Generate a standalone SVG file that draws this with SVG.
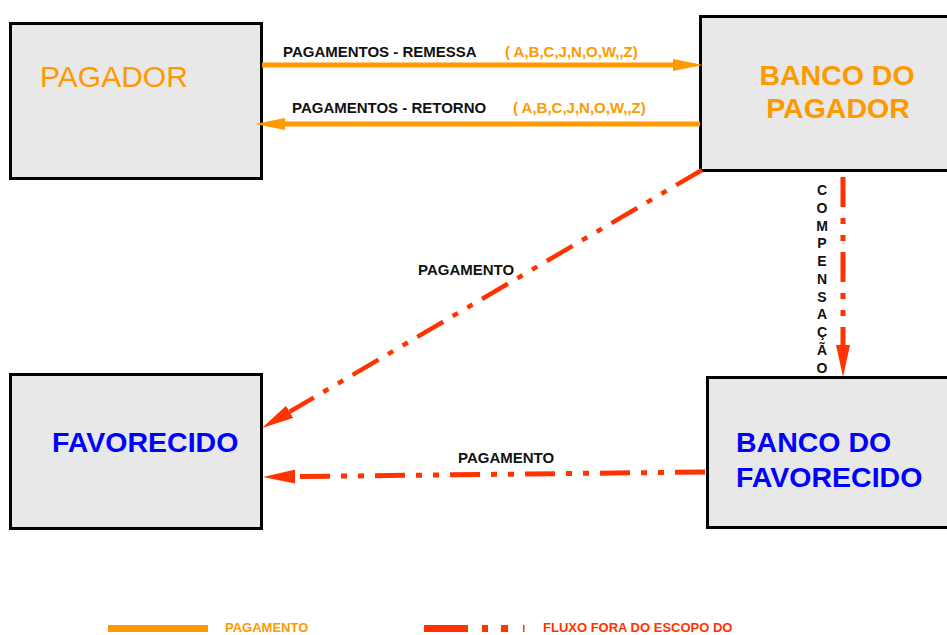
<svg xmlns="http://www.w3.org/2000/svg" width="947" height="635" viewBox="0 0 947 635">
<defs>
<style>
.box{fill:#e8e8e8;stroke:#000;stroke-width:3}
.big{font-family:"Liberation Sans",Arial,sans-serif;font-size:29px}
.or{fill:#ff9900}
.bl{fill:#0000ff;font-weight:bold}
.lbl{font-family:"Liberation Sans",Arial,sans-serif;font-size:15px;font-weight:bold;fill:#111}
.codes{font-family:"Liberation Sans",Arial,sans-serif;font-size:15px;font-weight:bold;fill:#ff9900}
.vt{font-family:"Liberation Sans",Arial,sans-serif;font-size:14px;font-weight:bold;fill:#111;text-anchor:middle}
.solid{stroke:#ff9900;stroke-width:5;fill:none}
.dash{stroke:#ff3300;stroke-width:5;fill:none;stroke-dasharray:30 11 6 11 6 11}
.leg{font-family:"Liberation Sans",Arial,sans-serif;font-size:13.5px;font-weight:bold}
</style>
<marker id="ao" markerUnits="userSpaceOnUse" markerWidth="30" markerHeight="12" refX="0" refY="6" orient="auto">
<path d="M0,0 L30,6 L0,12 z" fill="#ff9900"/>
</marker>
<marker id="ar" markerUnits="userSpaceOnUse" markerWidth="32" markerHeight="14" refX="0" refY="7" orient="auto">
<path d="M0,0 L32,7 L0,14 z" fill="#ff3300"/>
</marker>
</defs>
<rect width="947" height="635" fill="#fff"/>

<g id="pagador">
<rect class="box" x="10.5" y="23.5" width="251" height="155"/>
<text class="big or" x="40" y="87" style="font-size:30px">PAGADOR</text>
</g>
<g id="banco-pagador">
<rect class="box" x="700.5" y="16.5" width="260" height="154"/>
<text class="big or" x="837" y="85" text-anchor="middle" style="font-weight:bold;font-size:28.5px">BANCO DO</text>
<text class="big or" x="838" y="118" text-anchor="middle" style="font-weight:bold;font-size:28.5px">PAGADOR</text>
</g>
<g id="favorecido">
<rect class="box" x="10.5" y="374.5" width="251" height="154"/>
<text class="big bl" x="52" y="452" style="font-size:28.5px">FAVORECIDO</text>
</g>
<g id="banco-favorecido">
<rect class="box" x="707.5" y="377.5" width="260" height="150"/>
<text class="big bl" x="736" y="452" style="font-size:28.5px">BANCO DO</text>
<text class="big bl" x="736" y="487" style="font-size:28.5px">FAVORECIDO</text>
</g>

<g id="connectors">
<line class="solid" x1="262" y1="65" x2="673" y2="65" marker-end="url(#ao)"/>
<line class="solid" x1="700" y1="124" x2="285" y2="124" marker-end="url(#ao)"/>
<line class="dash" x1="702" y1="170" x2="289.6" y2="411.8" marker-end="url(#ar)" style="stroke-width:4.5"/>
<line class="dash" x1="843" y1="177" x2="843" y2="345" marker-end="url(#ar)"/>
<line class="dash" x1="705" y1="472" x2="295" y2="476.6" marker-end="url(#ar)"/>
<text class="lbl" x="283" y="57">PAGAMENTOS - REMESSA</text>
<text class="codes" x="505" y="57">( A,B,C,J,N,O,W,,Z)</text>
<text class="lbl" x="292" y="113">PAGAMENTOS - RETORNO</text>
<text class="codes" x="513" y="113">( A,B,C,J,N,O,W,,Z)</text>
<text class="lbl" x="418" y="275">PAGAMENTO</text>
<text class="lbl" x="458" y="463">PAGAMENTO</text>
<g class="vt">
<text x="822" y="195">C</text>
<text x="822" y="213">O</text>
<text x="822" y="231">M</text>
<text x="822" y="248">P</text>
<text x="822" y="266">E</text>
<text x="822" y="284">N</text>
<text x="822" y="302">S</text>
<text x="822" y="319">A</text>
<text x="822" y="337">Ç</text>
<text x="822" y="355">Ã</text>
<text x="822" y="373">O</text>
</g>
</g>

<g id="legend">
<rect x="108" y="625" width="100" height="7" fill="#ff9900"/>
<text class="leg" x="225" y="632" fill="#ff9900" style="font-size:13px">PAGAMENTO</text>
<rect x="424" y="625" width="44" height="7" fill="#ff3300"/>
<rect x="482" y="625" width="6" height="7" fill="#ff3300"/>
<rect x="501" y="625" width="7" height="7" fill="#ff3300"/>
<rect x="523" y="625" width="1.5" height="7" fill="#ff3300"/>
<text class="leg" x="543" y="632" fill="#ff3300" style="font-size:13px">FLUXO FORA DO ESCOPO DO</text>
</g>
</svg>
